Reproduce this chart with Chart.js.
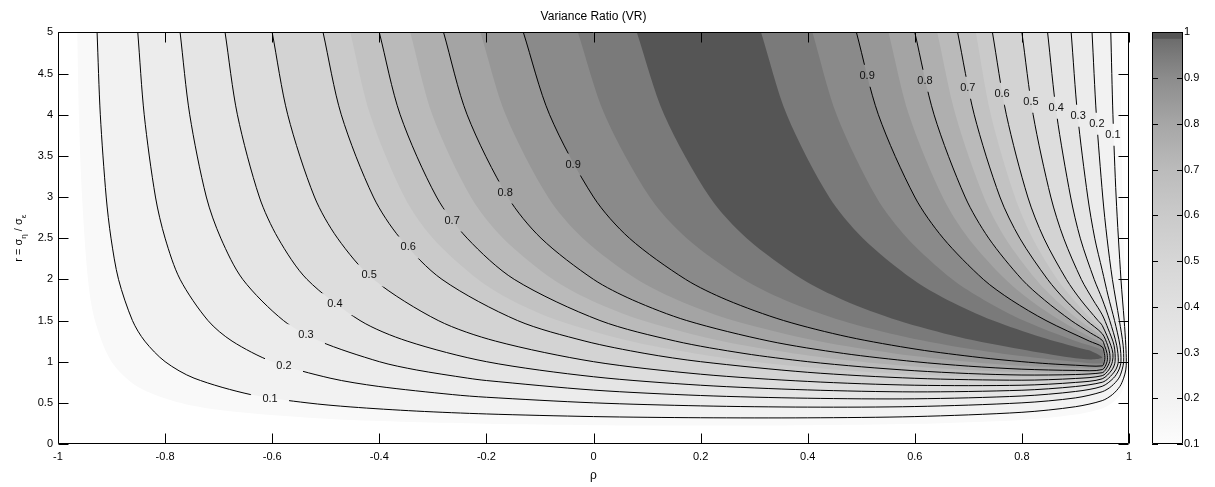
<!DOCTYPE html>
<html>
<head>
<meta charset="utf-8">
<script src="https://cdn.jsdelivr.net/npm/chart.js@4.4.1/dist/chart.umd.min.js"></script>
<style>
  html, body { margin: 0; padding: 0; background: #fff; }
  #wrap { width: 1215px; height: 487px; position: relative; }
</style>
</head>
<body>
<div id="wrap"><canvas id="vr"></canvas></div>
<script>
// VR contour levels; every contour is a list of [rho, r] points,
// from the top-left end, down and across, then up to the top-right end
var fillLevels = [0.05, 0.1, 0.2, 0.3, 0.4, 0.5, 0.6, 0.65, 0.7, 0.75, 0.8, 0.85, 0.9, 0.95, 0.986];
var lineLevels = [0.1, 0.2, 0.3, 0.4, 0.5, 0.6, 0.7, 0.8, 0.9];

var c005 = [[-0.964,5],[-0.961,4],[-0.955,3],[-0.944,2],[-0.931,1.5],[-0.9,1],[-0.852,0.7],[-0.772,0.5],[-0.683,0.4],[-0.483,0.3],[-0.2,0.246],[0,0.229],[0.2,0.224],[0.4,0.228],[0.6,0.245],[0.8,0.293],[0.9,0.357],[0.95,0.432],[0.969,0.5],[0.984,0.6],[0.995,0.8],[0.997,1],[0.995,1.5],[0.992,2],[0.988,3],[0.985,4],[0.983,5]];
var c01 = [[-0.927,5],[-0.921,4],[-0.910,3],[-0.901,2.5],[-0.887,2],[-0.861,1.5],[-0.838,1.25],[-0.8,1],[-0.746,0.8],[-0.640,0.6],[-0.535,0.5],[-0.453,0.45],[-0.331,0.4],[-0.2,0.365],[0,0.333],[0.2,0.319],[0.4,0.318],[0.6,0.333],[0.8,0.385],[0.9,0.453],[0.95,0.527],[0.969,0.6],[0.983,0.7],[0.990,0.8],[0.994,0.9],[0.995,1],[0.994,1.2],[0.991,1.5],[0.985,2],[0.976,3],[0.970,4],[0.966,5]];
var c02 = [[-0.851,5],[-0.839,4],[-0.818,3],[-0.8,2.5],[-0.772,2],[-0.720,1.5],[-0.675,1.25],[-0.6,1],[-0.492,0.8],[-0.402,0.7],[-0.263,0.6],[-0.2,0.568],[0,0.5],[0.2,0.463],[0.4,0.448],[0.6,0.455],[0.8,0.5],[0.9,0.56],[0.95,0.635],[0.967,0.7],[0.981,0.8],[0.987,0.9],[0.990,1],[0.989,1.2],[0.982,1.5],[0.969,2],[0.959,2.5],[0.951,3],[0.939,4],[0.931,5]];
var c03 = [[-0.772,5],[-0.754,4],[-0.723,3],[-0.696,2.5],[-0.655,2],[-0.579,1.5],[-0.512,1.25],[-0.4,1],[-0.331,0.9],[-0.235,0.8],[-0.2,0.771],[0,0.655],[0.2,0.589],[0.4,0.556],[0.6,0.549],[0.8,0.583],[0.9,0.638],[0.95,0.701],[0.971,0.8],[0.981,0.9],[0.985,1],[0.983,1.2],[0.973,1.5],[0.961,1.8],[0.95,2.11],[0.936,2.5],[0.923,3],[0.904,4],[0.892,5]];
var c04 = [[-0.688,5],[-0.665,4],[-0.624,3],[-0.589,2.5],[-0.535,2],[-0.436,1.5],[-0.348,1.25],[-0.2,1],[0,0.817],[0.2,0.714],[0.4,0.657],[0.6,0.633],[0.8,0.653],[0.9,0.698],[0.95,0.750],[0.962,0.8],[0.975,0.9],[0.980,1],[0.977,1.2],[0.964,1.5],[0.95,1.76],[0.935,2],[0.909,2.5],[0.891,3],[0.865,4],[0.848,5]];
var c05 = [[-0.6,5],[-0.571,4],[-0.521,3],[-0.478,2.5],[-0.411,2],[-0.290,1.5],[-0.183,1.25],[0,1],[0.2,0.848],[0.4,0.760],[0.6,0.714],[0.8,0.714],[0.9,0.748],[0.95,0.792],[0.968,0.9],[0.974,1],[0.972,1.2],[0.961,1.4],[0.95,1.57],[0.933,1.75],[0.911,2],[0.878,2.5],[0.854,3],[0.821,4],[0.8,5]];
var c06 = [[-0.505,5],[-0.471,4],[-0.411,3],[-0.361,2.5],[-0.283,2],[-0.142,1.5],[-0.016,1.25],[0.096,1.1],[0.2,1],[0.4,0.871],[0.6,0.798],[0.8,0.775],[0.9,0.796],[0.95,0.830],[0.962,0.9],[0.969,1],[0.970,1.1],[0.966,1.2],[0.95,1.44],[0.942,1.5],[0.91,1.75],[0.883,2],[0.841,2.5],[0.811,3],[0.771,4],[0.745,5]];
var c065 = [[-0.454,5],[-0.417,4],[-0.353,3],[-0.3,2.5],[-0.216,2],[-0.154,1.75],[-0.066,1.5],[0.068,1.25],[0.189,1.1],[0.3,1],[0.4,0.933],[0.5,0.881],[0.6,0.84],[0.7,0.817],[0.8,0.806],[0.9,0.82],[0.95,0.848],[0.959,0.9],[0.967,1],[0.968,1.05],[0.967,1.1],[0.963,1.2],[0.95,1.387],[0.932,1.5],[0.897,1.75],[0.866,2],[0.82,2.5],[0.787,3],[0.742,4],[0.714,5]];
var c07 = [[-0.4,5],[-0.361,4],[-0.293,3],[-0.236,2.5],[-0.148,2],[0.012,1.5],[0.153,1.25],[0.281,1.1],[0.4,1],[0.5,0.938],[0.6,0.89],[0.7,0.856],[0.8,0.838],[0.9,0.844],[0.95,0.866],[0.956,0.9],[0.964,1],[0.964,1.1],[0.960,1.2],[0.95,1.34],[0.921,1.5],[0.881,1.75],[0.848,2],[0.796,2.5],[0.759,3],[0.711,4],[0.68,5]];
var c075 = [[-0.342,5],[-0.301,4],[-0.229,3],[-0.169,2.5],[-0.076,2],[-0.006,1.75],[0.092,1.5],[0.239,1.25],[0.374,1.1],[0.5,1],[0.6,0.942],[0.7,0.899],[0.8,0.872],[0.9,0.868],[0.95,0.885],[0.958,0.95],[0.962,1],[0.963,1.05],[0.962,1.1],[0.957,1.2],[0.95,1.3],[0.908,1.5],[0.863,1.75],[0.826,2],[0.769,2.5],[0.729,3],[0.676,4],[0.642,5]];
var c08 = [[-0.28,5],[-0.236,4],[-0.160,3],[-0.098,2.5],[0,2],[0.073,1.75],[0.174,1.5],[0.328,1.25],[0.467,1.1],[0.6,1],[0.7,0.946],[0.8,0.909],[0.9,0.894],[0.95,0.904],[0.959,1],[0.959,1.1],[0.954,1.2],[0.95,1.26],[0.928,1.35],[0.892,1.5],[0.842,1.75],[0.8,2],[0.738,2.5],[0.694,3],[0.636,4],[0.6,5]];
var c085 = [[-0.211,5],[-0.164,4],[-0.085,3],[-0.02,2.5],[0.081,2],[0.157,1.75],[0.261,1.5],[0.419,1.25],[0.562,1.1],[0.7,1],[0.8,0.951],[0.9,0.923],[0.95,0.925],[0.956,1],[0.958,1.05],[0.957,1.1],[0.95,1.22],[0.927,1.3],[0.872,1.5],[0.815,1.75],[0.769,2],[0.7,2.5],[0.652,3],[0.589,4],[0.551,5]];
var c09 = [[-0.131,5],[-0.082,4],[0,3],[0.067,2.5],[0.172,2],[0.249,1.75],[0.355,1.5],[0.476,1.3],[0.604,1.15],[0.722,1.05],[0.8,1],[0.85,0.975],[0.9,0.957],[0.95,0.949],[0.954,1],[0.955,1.05],[0.954,1.1],[0.95,1.18],[0.926,1.25],[0.845,1.5],[0.78,1.75],[0.728,2],[0.653,2.5],[0.6,3],[0.532,4],[0.491,5]];
var c095 = [[-0.029,5],[0.021,4],[0.105,3],[0.174,2.5],[0.280,2],[0.357,1.75],[0.463,1.5],[0.583,1.3],[0.707,1.15],[0.822,1.05],[0.9,1],[0.95,0.979],[0.952,1.03],[0.952,1.08],[0.95,1.14],[0.9,1.25],[0.803,1.5],[0.729,1.75],[0.670,2],[0.586,2.5],[0.528,3],[0.454,4],[0.409,5]];
var c0986 = [[0.081,5],[0.132,4],[0.217,3],[0.286,2.5],[0.390,2],[0.466,1.75],[0.569,1.5],[0.682,1.3],[0.798,1.15],[0.891,1.05],[0.93,1.027],[0.95,1.05],[0.93,1.128],[0.917,1.15],[0.835,1.3],[0.746,1.5],[0.661,1.75],[0.596,2],[0.503,2.5],[0.440,3],[0.361,4],[0.313,5]];
var contours = [c005, c01, c02, c03, c04, c05, c06, c065, c07, c075, c08, c085, c09, c095, c0986];

// where the level numbers sit, [rho, r], one per line level on each side
var labelsLeft = [[-0.604,0.545],[-0.578,0.945],[-0.537,1.321],[-0.483,1.697],[-0.419,2.048],[-0.346,2.388],[-0.264,2.715],[-0.165,3.055],[-0.038,3.394]];
var labelsRight = [[0.970,3.758],[0.940,3.891],[0.905,3.988],[0.864,4.085],[0.817,4.158],[0.763,4.255],[0.699,4.327],[0.619,4.412],[0.511,4.473]];

var xTicks = [-1, -0.8, -0.6, -0.4, -0.2, 0, 0.2, 0.4, 0.6, 0.8, 1];
var yTicks = [0, 0.5, 1, 1.5, 2, 2.5, 3, 3.5, 4, 4.5, 5];
var cbTicks = [0.1, 0.2, 0.3, 0.4, 0.5, 0.6, 0.7, 0.8, 0.9, 1];

// styles
var bandFill = ['#f9f9f9', '#f2f2f2', '#ececec', '#e5e5e5', '#dddddd', '#d3d3d3',
                '#cacaca', '#c2c2c2', '#bababa', '#afafaf', '#a4a4a4', '#979797',
                '#8a8a8a', '#7a7a7a', '#555555'];
var cbMap = [[0.1, 252], [0.2, 242], [0.3, 233], [0.4, 224], [0.5, 214], [0.6, 202],
             [0.7, 187], [0.8, 166], [0.9, 140], [0.95, 122], [0.985, 108], [0.986, 85], [1, 85]];
var gapBox = { w: 38, h: 22 };
var fontFam = '"Liberation Sans", Arial, Helvetica, sans-serif';

Chart.defaults.font.family = fontFam;
Chart.defaults.font.size = 11;
Chart.defaults.color = '#000';

function toXY(pts) {
  return pts.map(function (p) { return { x: p[0], y: p[1] }; });
}

var datasets = [];
fillLevels.forEach(function (lv, i) {
  datasets.push({
    data: toXY(contours[i]),
    fill: 'shape',
    backgroundColor: bandFill[i],
    borderColor: 'rgba(0,0,0,0)',
    borderWidth: 0,
    pointRadius: 0,
    tension: 0.3,
    order: 100 - i
  });
});
lineLevels.forEach(function (lv, k) {
  datasets.push({
    data: toXY(contours[fillLevels.indexOf(lv)]),
    fill: false,
    borderColor: '#000',
    borderWidth: 1,
    pointRadius: 0,
    tension: 0.3,
    contourIdx: k,
    order: 1
  });
});

function fixTicks(list) {
  return function (scale) {
    scale.ticks = list.map(function (v) { return { value: v }; });
  };
}
function fixSize(prop, size) {
  return function (scale) {
    scale[prop] = size;
    scale.paddingTop = 0;
    scale.paddingBottom = 0;
  };
}
function plainLabel(v) { return String(v); }

// breaks each contour line where its labels go, then writes the labels
var contourLabels = {
  id: 'contourLabels',
  beforeDatasetDraw: function (chart, args) {
    var ds = chart.data.datasets[args.index];
    if (ds.contourIdx === undefined) return;
    var ctx = chart.ctx, a = chart.chartArea;
    var xs = chart.scales.x, ys = chart.scales.y;
    ctx.save();
    ctx.beginPath();
    ctx.rect(a.left - 2, a.top - 2, a.width + 4, a.height + 4);
    [labelsLeft[ds.contourIdx], labelsRight[ds.contourIdx]].forEach(function (l) {
      var px = xs.getPixelForValue(l[0]), py = ys.getPixelForValue(l[1]);
      ctx.rect(px - gapBox.w / 2, py - gapBox.h / 2, gapBox.w, gapBox.h);
    });
    ctx.clip('evenodd');
  },
  afterDatasetDraw: function (chart, args) {
    if (chart.data.datasets[args.index].contourIdx !== undefined) chart.ctx.restore();
  },
  afterDatasetsDraw: function (chart) {
    var ctx = chart.ctx, xs = chart.scales.x, ys = chart.scales.y, a = chart.chartArea;
    ctx.save();
    ctx.font = '11px ' + fontFam;
    ctx.fillStyle = '#111';
    ctx.textAlign = 'center';
    ctx.textBaseline = 'middle';
    lineLevels.forEach(function (lv, k) {
      [labelsLeft[k], labelsRight[k]].forEach(function (l) {
        ctx.fillText(String(lv), xs.getPixelForValue(l[0]), ys.getPixelForValue(l[1]));
      });
    });

    // box and inward ticks, MATLAB style
    var L = Math.round(a.left) + 0.5, R = Math.round(a.right) - 0.5;
    var T = Math.round(a.top) + 0.5, B = Math.round(a.bottom) - 0.5;
    ctx.strokeStyle = '#000';
    ctx.lineWidth = 1;
    ctx.beginPath();
    ctx.rect(L, T, R - L, B - T);
    xTicks.forEach(function (v) {
      var px = Math.round(xs.getPixelForValue(v)) + 0.5;
      ctx.moveTo(px, B); ctx.lineTo(px, B - 10);
      ctx.moveTo(px, T); ctx.lineTo(px, T + 10);
    });
    yTicks.forEach(function (v) {
      var py = Math.round(ys.getPixelForValue(v)) + 0.5;
      ctx.moveTo(L, py); ctx.lineTo(L + 10, py);
      ctx.moveTo(R, py); ctx.lineTo(R - 10, py);
    });
    ctx.stroke();
    ctx.restore();
  },
  afterDraw: function (chart) {
    var ctx = chart.ctx, a = chart.chartArea, cb = chart.scales.cb;
    // colour bar
    var x0 = Math.round(a.right) + 23, w = 31;
    var top = Math.round(cb.getPixelForValue(1)), bot = Math.round(cb.getPixelForValue(0.1));
    var g = ctx.createLinearGradient(0, bot, 0, top);
    cbMap.forEach(function (s) {
      g.addColorStop((s[0] - 0.1) / 0.9, 'rgb(' + s[1] + ',' + s[1] + ',' + s[1] + ')');
    });
    ctx.save();
    ctx.fillStyle = g;
    ctx.fillRect(x0, top, w, bot - top);
    ctx.strokeStyle = '#000';
    ctx.lineWidth = 1;
    ctx.beginPath();
    ctx.rect(x0 + 0.5, top + 0.5, w - 1, bot - top - 1);
    cbTicks.forEach(function (v) {
      var py = Math.round(cb.getPixelForValue(v)) + 0.5;
      ctx.moveTo(x0, py); ctx.lineTo(x0 + 6, py);
      ctx.moveTo(x0 + w, py); ctx.lineTo(x0 + w - 6, py);
    });
    ctx.stroke();

    // y axis title with subscripts
    var parts = [['r = \u03c3', 0, 11], ['\u03b7', 4, 8], [' / \u03c3', 0, 11], ['\u03b5', 4, 8]];
    var total = 0;
    parts.forEach(function (p) { ctx.font = p[2] + 'px ' + fontFam; p.push(ctx.measureText(p[0]).width); total += p[3]; });
    ctx.translate(18, (a.top + a.bottom) / 2);
    ctx.rotate(-Math.PI / 2);
    ctx.fillStyle = '#000';
    ctx.textBaseline = 'alphabetic';
    ctx.textAlign = 'left';
    var cx = -total / 2;
    parts.forEach(function (p) {
      ctx.font = p[2] + 'px ' + fontFam;
      ctx.fillText(p[0], cx, 4 + p[1]);
      cx += p[3];
    });
    ctx.restore();
  }
};

new Chart(document.getElementById('vr'), {
  type: 'line',
  data: { datasets: datasets },
  options: {
    responsive: true,
    maintainAspectRatio: false,
    animation: false,
    events: [],
    layout: { padding: 0 },
    scales: {
      x: {
        type: 'linear', min: -1, max: 1,
        afterBuildTicks: fixTicks(xTicks),
        afterFit: fixSize('height', 43),
        grid: { display: false, drawTicks: false },
        border: { display: false },
        ticks: { padding: 6, maxRotation: 0, autoSkip: false, callback: plainLabel },
        title: { display: true, text: '\u03c1', font: { size: 12 }, padding: { top: 0, bottom: 4 } }
      },
      y: {
        type: 'linear', min: 0, max: 5, position: 'left',
        afterBuildTicks: fixTicks(yTicks),
        afterFit: fixSize('width', 58),
        grid: { display: false, drawTicks: false },
        border: { display: false },
        ticks: { padding: 5, autoSkip: false, callback: plainLabel }
      },
      cb: {
        type: 'linear', min: 0.1, max: 1, position: 'right',
        afterBuildTicks: fixTicks(cbTicks),
        afterFit: fixSize('width', 86),
        grid: { display: false, drawTicks: false },
        border: { display: false },
        ticks: { padding: 55, autoSkip: false, callback: plainLabel }
      }
    },
    plugins: {
      legend: { display: false },
      tooltip: { enabled: false },
      title: {
        display: true, text: 'Variance Ratio (VR)', fullSize: false,
        font: { size: 12, weight: 'normal' }, padding: { top: 9, bottom: 9 }
      }
    }
  },
  plugins: [contourLabels]
});
</script>
</body>
</html>
